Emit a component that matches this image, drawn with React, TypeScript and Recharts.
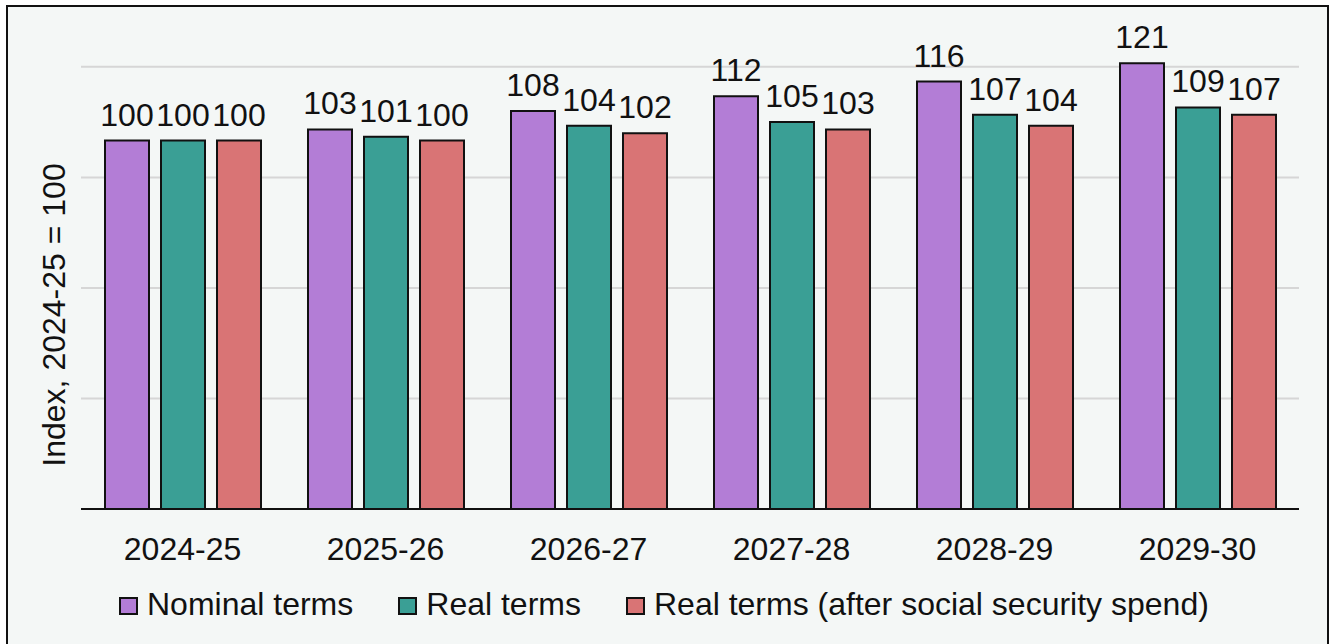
import React from "react";
import { BarChart, Bar, XAxis, YAxis, CartesianGrid, LabelList } from "recharts";

const years = ["2024-25", "2025-26", "2026-27", "2027-28", "2028-29", "2029-30"];
const nominal = [100, 103, 108, 112, 116, 121];
const real = [100, 101, 104, 105, 107, 109];
const realAfterSocial = [100, 100, 102, 103, 104, 107];
const gridTicks = [30, 60, 90, 120];
const yDomain: [number, number] = [0, 130];

const series = [
  { key: "nominal", name: "Nominal terms", color: "#b37dd6", values: nominal },
  { key: "real", name: "Real terms", color: "#3a9f95", values: real },
  { key: "realAfter", name: "Real terms (after social security spend)", color: "#d97475", values: realAfterSocial },
];

const data = years.map((year, i) => {
  const row: Record<string, string | number> = { year };
  series.forEach((s) => (row[s.key] = s.values[i]));
  return row;
});

const FONT = '"Liberation Sans", Arial, Helvetica, sans-serif';

// grid lines only at the value ticks, without the extra line on the top edge
function gridRows({ yAxis, offset }: any): number[] {
  const s = yAxis?.scale;
  if (typeof s === "function") return gridTicks.map((t) => s(t));
  if (s && typeof s.map === "function") return gridTicks.map((t) => s.map(t));
  const [lo, hi] = yDomain;
  return gridTicks.map((t) => offset.top + offset.height * (1 - (t - lo) / (hi - lo)));
}

export default function App() {
  return (
    <div style={{ position: "relative", width: 1330, height: 644, fontFamily: FONT }}>
      <style>{`html,body{margin:0;padding:0;overflow:hidden;background:#fff}`}</style>
      <div
        style={{
          position: "absolute",
          left: 6,
          top: 5,
          width: 1323,
          height: 660,
          boxSizing: "border-box",
          border: "2px solid #111",
          background: "#f4f7f6",
        }}
      />
      <div style={{ position: "absolute", left: 0, top: 0 }}>
        <BarChart
          width={1330}
          height={644}
          data={data}
          margin={{ top: 30, right: 31, bottom: 75, left: 81 }}
          barSize={44}
          barGap={12}
        >
          <CartesianGrid
            vertical={false}
            horizontalCoordinatesGenerator={gridRows}
            stroke="#d6d6d6"
            strokeWidth={2}
          />
          <XAxis
            dataKey="year"
            height={60}
            tickLine={false}
            tickSize={6}
            tickMargin={22}
            axisLine={{ stroke: "#111", strokeWidth: 2 }}
            tick={{ fontSize: 32, fill: "#111", fontFamily: FONT }}
          />
          <YAxis
            width={0}
            domain={yDomain}
            ticks={gridTicks}
            interval={0}
            tick={() => <g />}
            tickLine={false}
            axisLine={false}
          />
          {series.map((s) => (
            <Bar
              key={s.key}
              dataKey={s.key}
              name={s.name}
              fill={s.color}
              stroke="#111"
              strokeWidth={2}
              isAnimationActive={false}
            >
              <LabelList
                dataKey={s.key}
                position="top"
                offset={15}
                style={{ fontSize: 32, fill: "#111", fontFamily: FONT }}
              />
            </Bar>
          ))}
        </BarChart>
      </div>
      <div
        style={{
          position: "absolute",
          left: 54,
          top: 315,
          transform: "translate(-50%, -50%) rotate(-90deg)",
          fontSize: 32,
          lineHeight: "32px",
          color: "#111",
          whiteSpace: "nowrap",
        }}
      >
        Index, 2024-25 = 100
      </div>
      <div
        style={{
          position: "absolute",
          left: 119,
          top: 588,
          display: "flex",
          alignItems: "center",
          gap: 45,
          fontSize: 32,
          lineHeight: "32px",
          color: "#111",
          whiteSpace: "nowrap",
        }}
      >
        {series.map((s) => (
          <div key={s.key} style={{ display: "flex", alignItems: "center" }}>
            <span
              style={{
                display: "inline-block",
                width: 19,
                height: 18,
                boxSizing: "border-box",
                border: "2px solid #111",
                background: s.color,
                marginRight: 9,
                marginTop: 3,
              }}
            />
            <span>{s.name}</span>
          </div>
        ))}
      </div>
    </div>
  );
}
